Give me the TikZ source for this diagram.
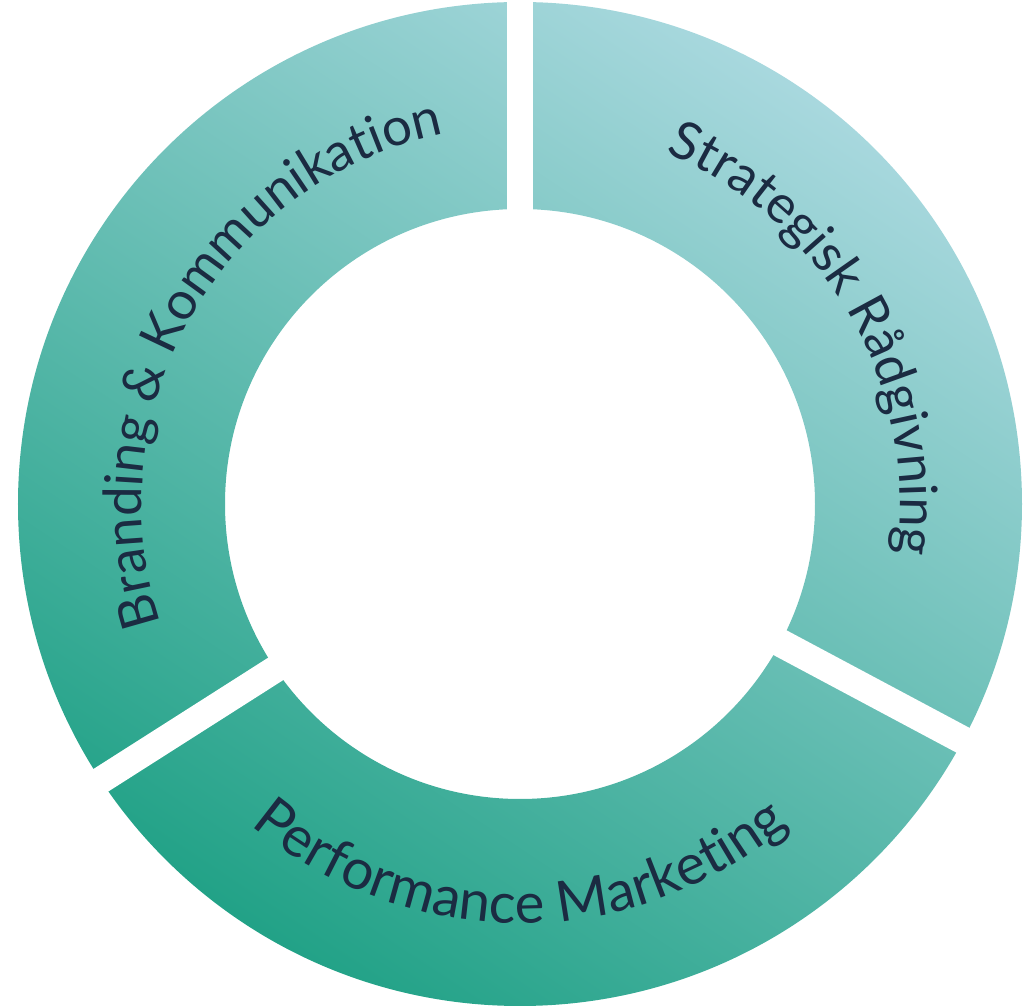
\documentclass[tikz,border=0pt]{standalone}
\usepackage{fontspec}
\usetikzlibrary{decorations.text}
\newfontfamily\lblfont{Lato}
\definecolor{txt}{HTML}{1B2B42}
\definecolor{cLight}{HTML}{A8D8DE}
\definecolor{cMid}{HTML}{64BEB2}
\definecolor{cDark}{HTML}{22A287}
\tikzset{
  ringfill/.style={even odd rule, top color=cLight, middle color=cMid, bottom color=cDark, shading angle=-33.5},
  gapline/.style={white, line width=#1},
  ringlabel/.style 2 args={decorate, decoration={text along path, text align=center,
      text={|\lblfont\fontsize{#1}{#1}\selectfont\color{txt}|#2}}}
}
\begin{document}
\begin{tikzpicture}[x=0.1mm, y=0.1mm]
\useasboundingbox (-520,-503) rectangle (504,504);
% ring
\shade[ringfill] (0,0) circle[radius=50.2mm] (0,0) circle[radius=29.5mm];
% gaps
\coordinate (g1a) at (0,150);      \coordinate (g1b) at (0,600);
\coordinate (g2a) at (150,-80);    \coordinate (g2b) at (600,-320);
\coordinate (g3a) at (-155,-108);  \coordinate (g3b) at (-560,-366);
\draw[gapline=2.6mm] (g1a) -- (g1b);
\draw[gapline=2.8mm] (g2a) -- (g2b);
\draw[gapline=2.7mm] (g3a) -- (g3b);
% labels
\path[ringlabel={15pt}{Branding {\&} Kommunikation}] (210:378) arc[start angle=210, end angle=90, radius=37.8mm];
\path[ringlabel={15pt}{Strategisk Rådgivning}] (90:380) arc[start angle=90, end angle=-30, radius=38mm];
\path[ringlabel={16pt}{Performance Marketing}] (210:419) arc[start angle=210, end angle=330, radius=41.9mm];
\end{tikzpicture}
\end{document}
